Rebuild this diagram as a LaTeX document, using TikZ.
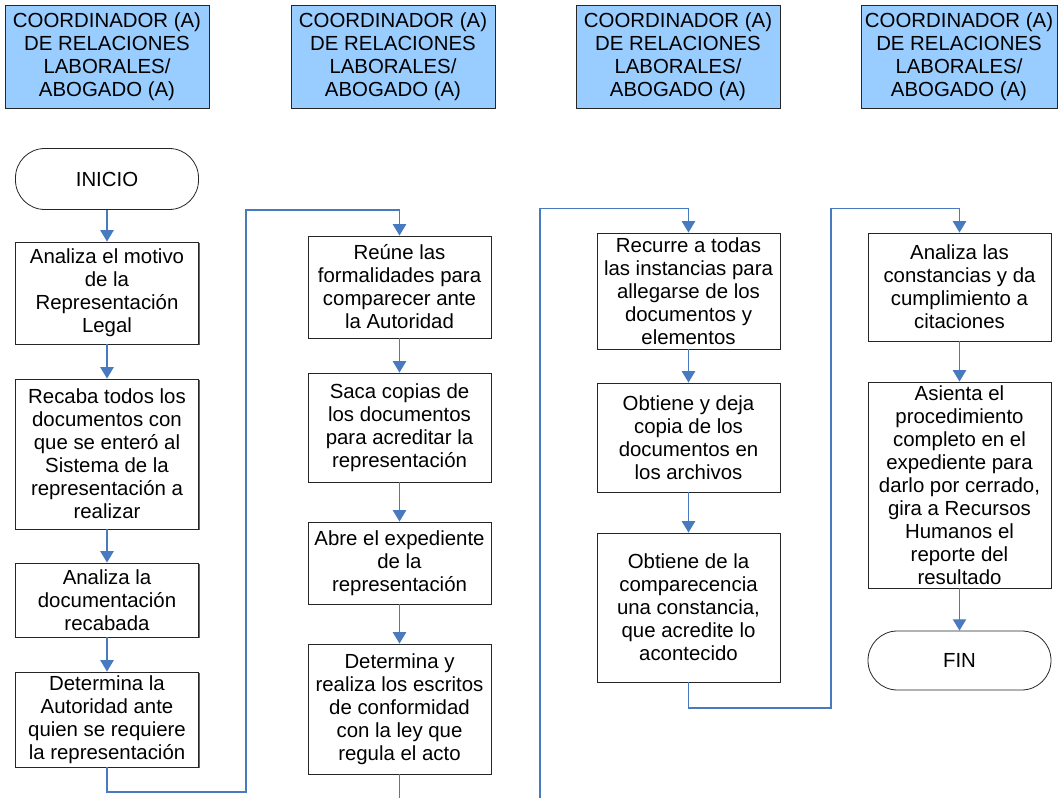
\documentclass[tikz,border=0pt]{standalone}
\usepackage{fontspec}
\setmainfont{Liberation Sans}
\usetikzlibrary{arrows.meta,shadows}
\definecolor{hdrblue}{RGB}{153,204,255}
\definecolor{connblue}{RGB}{72,122,192}
\tikzset{
  base/.style={draw=black!85, line width=0.7pt, align=center, inner sep=0pt,
    font=\fontsize{15.3}{17.25}\selectfont,
    drop shadow={shadow xshift=0.9pt, shadow yshift=-0.9pt, fill=black!60, opacity=1}},
  hdr/.style={base, fill=hdrblue, minimum width=153pt, minimum height=77.25pt},
  proc/.style={base, fill=white, minimum width=137.25pt},
  term/.style={draw=black!85, line width=0.6pt, fill=white, align=center, inner sep=0pt,
    font=\fontsize{15.3}{17.25}\selectfont, minimum width=137.25pt, rounded corners=22pt},
  conn/.style={draw=connblue, line width=0.8pt, -{Triangle[width=10pt,length=8.5pt]}},
  plain/.style={draw=connblue, line width=0.8pt}
}
\begin{document}
\begin{tikzpicture}[x=0.75pt,y=-0.75pt]
\useasboundingbox (0,0) rectangle (1058,798);
% headers
\node[hdr] (H1) at (107,56.5) {COORDINADOR (A)\\DE RELACIONES\\LABORALES/\\ABOGADO (A)};
\node[hdr] (H2) at (393,56.5) {COORDINADOR (A)\\DE RELACIONES\\LABORALES/\\ABOGADO (A)};
\node[hdr] (H3) at (678,56.5) {COORDINADOR (A)\\DE RELACIONES\\LABORALES/\\ABOGADO (A)};
\node[hdr, minimum width=147pt] (H4) at (959,56.5) {COORDINADOR (A)\\DE RELACIONES\\LABORALES/\\ABOGADO (A)};
% column 1
\node[term, minimum height=45.75pt] (S) at (107,179) {INICIO};
\node[proc, minimum height=76.5pt] (A1) at (107,293) {Analiza el motivo\\de la\\Representación\\Legal};
\node[proc, minimum height=112.5pt] (A2) at (107,454) {Recaba todos los\\documentos con\\que se enteró al\\Sistema de la\\representación a\\realizar};
\node[proc, minimum height=55.5pt] (A3) at (107,600) {Analiza la\\documentación\\recabada};
\node[proc, minimum height=71.25pt] (A4) at (107,719.5) {Determina la\\Autoridad ante\\quien se requiere\\la representación};
% column 2
\node[proc, minimum height=76.5pt] (B1) at (399.5,287) {Reúne las\\formalidades para\\comparecer ante\\la Autoridad};
\node[proc, minimum height=81.75pt] (B2) at (399.5,427.5) {Saca copias de\\los documentos\\para acreditar la\\representación};
\node[proc, minimum height=61.5pt] (B3) at (399.5,563) {Abre el expediente\\de la\\representación};
\node[proc, minimum height=97.5pt] (B4) at (399.5,709) {Determina y\\realiza los escritos\\de conformidad\\con la ley que\\regula el acto};
% column 3
\node[proc, minimum height=87pt] (C1) at (688.5,291) {Recurre a todas\\las instancias para\\allegarse de los\\documentos y\\elementos};
\node[proc, minimum height=81.75pt] (C2) at (688.5,437.5) {Obtiene y deja\\copia de los\\documentos en\\los archivos};
\node[proc, minimum height=111.75pt] (C3) at (688.5,607.5) {Obtiene de la\\comparecencia\\una constancia,\\que acredite lo\\acontecido};
% column 4
\node[proc, minimum height=81pt] (D1) at (959.5,287) {Analiza las\\constancias y da\\cumplimiento a\\citaciones};
\node[proc, minimum height=154.5pt] (D2) at (959.5,485) {Asienta el\\procedimiento\\completo en el\\expediente para\\darlo por cerrado,\\gira a Recursos\\Humanos el\\reporte del\\resultado};
\node[term, minimum height=44.25pt] (E) at (959.5,660.5) {FIN};
% helper coordinates
\coordinate (k1) at (246,792);
\coordinate (k2) at (399.5,210);
\coordinate (b4end) at (399.5,798);
\coordinate (c3start) at (540,798);
\coordinate (k3) at (688.5,208.5);
\coordinate (k4) at (831,708);
\coordinate (k5) at (959.5,208.5);
% connectors
\draw[conn] (S) -- (A1);
\draw[conn] (A1) -- (A2);
\draw[conn] (A2) -- (A3);
\draw[conn] (A3) -- (A4);
\draw[conn] (A4.south) |- (k1) |- (k2) -- (B1.north);
\draw[conn] (B1) -- (B2);
\draw[conn] (B2) -- (B3);
\draw[conn] (B3) -- (B4);
\draw[plain] (B4.south) -- (b4end);
\draw[conn] (c3start) |- (k3) -- (C1.north);
\draw[conn] (C1) -- (C2);
\draw[conn] (C2) -- (C3);
\draw[conn] (C3.south) |- (k4) |- (k5) -- (D1.north);
\draw[conn] (D1) -- (D2);
\draw[conn] (D2) -- (E);
\end{tikzpicture}
\end{document}
